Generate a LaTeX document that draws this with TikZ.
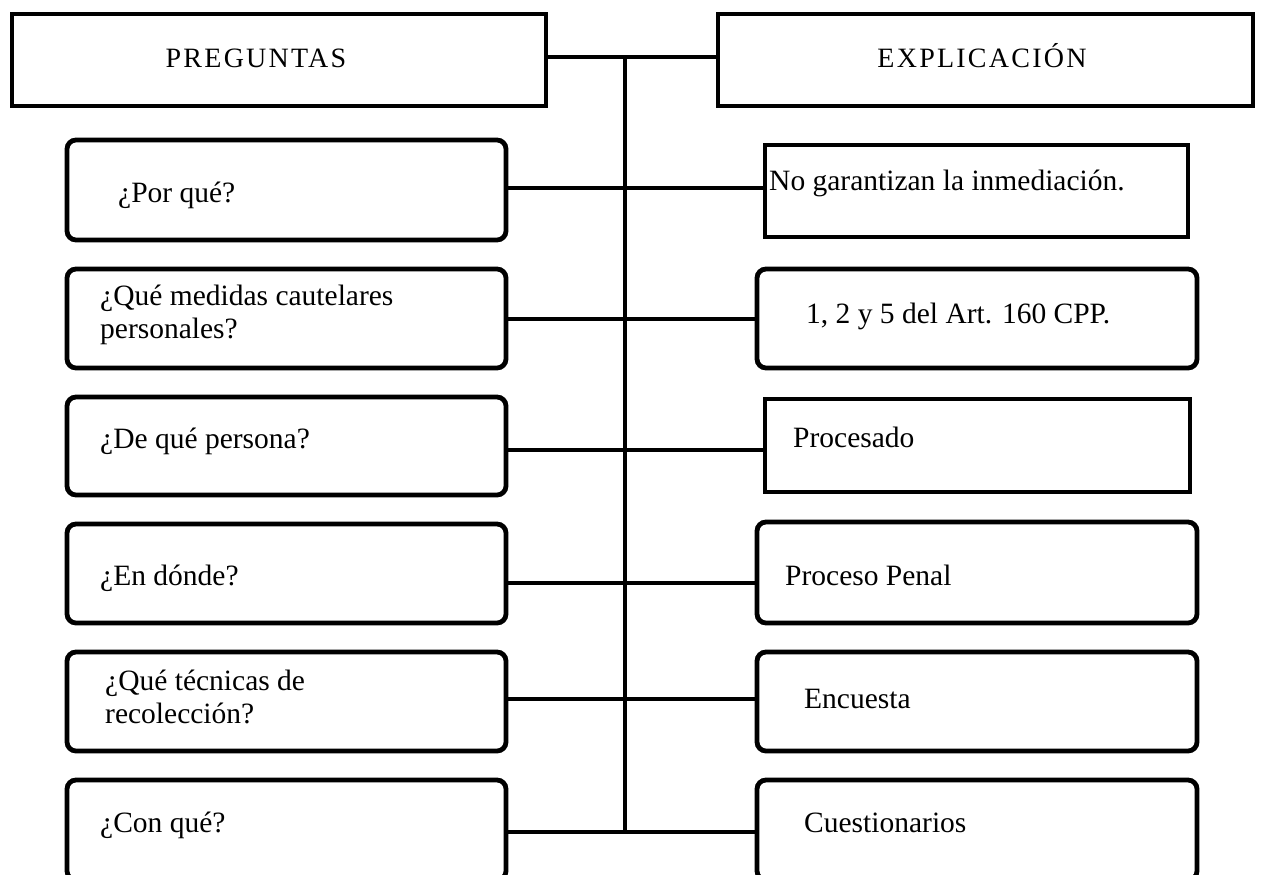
\documentclass[tikz,border=0pt]{standalone}
\usepackage{fontspec}
\setmainfont{Liberation Serif}
\newfontfamily\headfont[LetterSpace=8]{Liberation Serif}
\begin{document}
\begin{tikzpicture}[x=1pt,y=-1pt,
  rbox/.style={draw, line width=4.8pt, rounded corners=9pt, inner sep=0pt},
  sqbox/.style={draw, line width=4.8pt, inner sep=0pt},
  txt/.style={anchor=base west, inner sep=0pt, font=\fontsize{29.5}{33}\selectfont},
  head/.style={anchor=base, inner sep=0pt, font=\headfont\fontsize{28}{32}\selectfont},
  link/.style={line width=4.8pt},
  spine/.style={line width=4pt}]
\useasboundingbox (0,0) rectangle (1262,875);
\clip (0,0) rectangle (1262,875);

% header boxes
\node[sqbox, minimum width=534pt, minimum height=92pt] (HL) at (279,60) {};
\node[sqbox, minimum width=535pt, minimum height=92pt] (HR) at (985.5,60) {};
\node[head] (tHL) at (256,68) {PREGUNTAS};
\node[head] (tHR) at (982,68) {EXPLICACIÓN};

% left boxes
\node[rbox, minimum width=439pt, minimum height=100pt] (L1) at (286.5,190) {};
\node[rbox, minimum width=439pt, minimum height=99pt] (L2) at (286.5,318.5) {};
\node[rbox, minimum width=439pt, minimum height=98pt] (L3) at (286.5,446) {};
\node[rbox, minimum width=439pt, minimum height=99pt] (L4) at (286.5,573.5) {};
\node[rbox, minimum width=439pt, minimum height=99pt] (L5) at (286.5,701.5) {};
\node[rbox, minimum width=439pt, minimum height=100pt] (L6) at (286.5,830) {};

% right boxes
\node[sqbox, minimum width=423pt, minimum height=92pt] (R1) at (976.5,191) {};
\node[rbox, minimum width=440pt, minimum height=99pt] (R2) at (977,318.5) {};
\node[sqbox, minimum width=425pt, minimum height=93pt] (R3) at (977.5,445.5) {};
\node[rbox, minimum width=440pt, minimum height=101pt] (R4) at (977,572.5) {};
\node[rbox, minimum width=440pt, minimum height=99pt] (R5) at (977,701.5) {};
\node[rbox, minimum width=440pt, minimum height=100pt] (R6) at (977,830) {};

% texts
\node[txt] (tL1) at (118,202) {¿Por qué?};
\node[txt] (tL2) at (100,305) {\begin{tabular}[t]{@{}l@{}}¿Qué medidas cautelares\\ personales?\end{tabular}};
\node[txt] (tL3) at (100,448) {¿De qué persona?};
\node[txt] (tL4) at (100,585) {¿En dónde?};
\node[txt] (tL5) at (105,690) {\begin{tabular}[t]{@{}l@{}}¿Qué técnicas de\\ recolección?\end{tabular}};
\node[txt] (tL6) at (100,832) {¿Con qué?};

\node[txt] (tR1) at (769,190) {No garantizan la inmediación.};
\node[txt] (tR2) at (806,323) {1, 2 y 5 del Art. 160 CPP.};
\node[txt] (tR3) at (793,447) {Procesado};
\node[txt] (tR4) at (785,585) {Proceso Penal};
\node[txt] (tR5) at (804,708) {Encuesta};
\node[txt] (tR6) at (804,832) {Cuestionarios};

% spine coordinates
\coordinate (s0) at (625,57);
\coordinate (s1) at (625,188);
\coordinate (s2) at (625,319);
\coordinate (s3) at (625,450);
\coordinate (s4) at (625,583);
\coordinate (s5) at (625,699);
\coordinate (s6) at (625,832);

% connectors
\draw[link] (HL.east |- s0) -- (HR.west |- s0);
\draw[spine] (s0) -- (s6);
\draw[link] (L1.east |- s1) -- (R1.west |- s1);
\draw[link] (L2.east |- s2) -- (R2.west |- s2);
\draw[link] (L3.east |- s3) -- (R3.west |- s3);
\draw[link] (L4.east |- s4) -- (R4.west |- s4);
\draw[link] (L5.east |- s5) -- (R5.west |- s5);
\draw[link] (L6.east |- s6) -- (R6.west |- s6);
\end{tikzpicture}
\end{document}
